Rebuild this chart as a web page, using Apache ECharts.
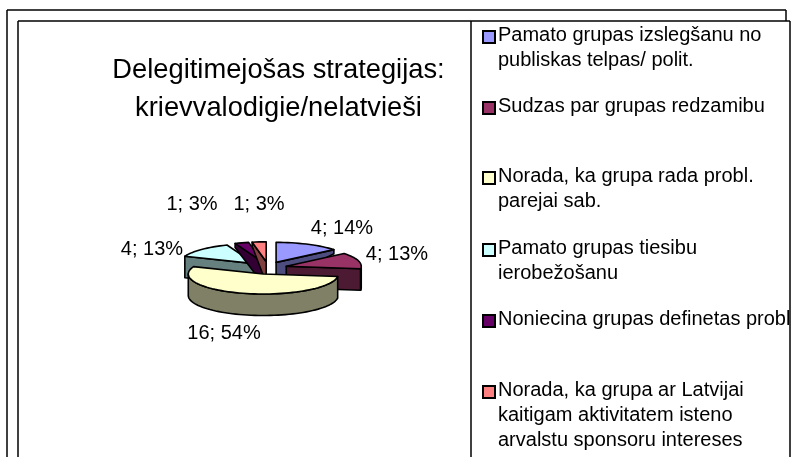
<!DOCTYPE html>
<html><head><meta charset="utf-8">
<style>html,body{margin:0;padding:0;background:#fff}#c{width:791px;height:457px}</style>
<script src="https://cdn.jsdelivr.net/npm/echarts@6/dist/echarts.min.js"></script>
</head><body><div id="c"></div>
<script>
const titleText = 'Delegitimejošas strategijas:\nkrievvalodigie/nelatvieši';
const categories = [
  'Pamato grupas izslegšanu no\npubliskas telpas/ polit.',
  'Sudzas par grupas redzamibu',
  'Norada, ka grupa rada probl.\nparejai sab.',
  'Pamato grupas tiesibu\nierobežošanu',
  'Noniecina grupas definetas probl',
  'Norada, ka grupa ar Latvijai\nkaitigam aktivitatem isteno\narvalstu sponsoru intereses'
];
const counts = [4, 4, 16, 4, 1, 1];
const percents = [14, 13, 54, 13, 3, 3];
const topColors = ['#9999FF', '#993366', '#FFFFCC', '#CCFFFF', '#660066', '#FF8080'];
const sideColors = ['#4D4D80', '#4D1A33', '#808066', '#668080', '#330033', '#804040'];
const labelPos = [[342,228],[397,254],[224,333],[152,249],[192,204],[259,204]];
const legendY = [35,106,176,248,319,390];
const drawOrder = [3,4,5,0,1,2];

const C = {x:268, y:268, rx:75, ry:20, depth:21.5, ex:19, ey:6.2};
const total = percents.reduce((a,b)=>a+b,0);
const rad = d => d*Math.PI/180;
function startAngle(i){ let s=0; for(let k=0;k<i;k++) s+=percents[k]; return s/total*360; }
// the far rim of the reference's perspective pie has a much shallower wall
function rimDepth(t){
  const c=Math.cos(rad(t));
  const f=Math.min(1,Math.max(0,(c-0.37)/0.27));
  return C.depth-(C.depth-4)*f;
}
function renderSlice(i){
  return function(params, api){
    const pct = api.value(0);
    const a = startAngle(i), b = a + pct/total*360, m = (a+b)/2;
    const ox = C.x + C.ex*Math.sin(rad(m)), oy = C.y - C.ey*Math.cos(rad(m));
    const P = t => [ox + C.rx*Math.sin(rad(t)), oy - C.ry*Math.cos(rad(t))];
    const D = t => { const p=P(t); return [p[0], p[1]+rimDepth(t)]; };
    const angles = (s,e) => { const r=[]; const n=Math.max(2,Math.ceil((e-s)/3)); for(let j=0;j<=n;j++) r.push(s+(e-s)*j/n); return r; };
    const style = c => ({fill:c, stroke:'#000', lineWidth:1.6, lineJoin:'round'});
    const apex=[ox,oy], apexD=[ox,oy+C.depth], kids=[];
    const wall = pts => kids.push({type:'polygon', shape:{points:pts}, style:style(sideColors[i])});
    if (Math.sin(rad(b)) > 0) wall([apex,P(b),D(b),apexD]);
    if (Math.sin(rad(a)) < 0) wall([apex,P(a),D(a),apexD]);
    const rs=Math.max(a,90), re=Math.min(b,270);
    if (re>rs){ const r=angles(rs,re); wall(r.map(P).concat(r.slice().reverse().map(D))); }
    kids.push({type:'polygon', shape:{points:[apex].concat(angles(a,b).map(P))}, style:style(topColors[i])});
    kids.push({type:'text', style:{x:labelPos[i][0], y:labelPos[i][1], text:counts[i]+'; '+pct+'%',
      fill:'#000', font:'20px "Liberation Sans"', align:'center', verticalAlign:'middle'}});
    return {type:'group', children:kids};
  };
}
const series = drawOrder.map((i,z)=>({
  type:'custom', coordinateSystem:'none', name:categories[i], z:2+z,
  itemStyle:{color:topColors[i], borderColor:'#000', borderWidth:1.5},
  data:[[percents[i]]], renderItem:renderSlice(i), silent:true
}));
const LH=25;
const legends = categories.map((n,i)=>({
  data:[n], orient:'vertical', left:482, top:legendY[i]-58.5, padding:0, icon:'rect',
  itemWidth:12, itemHeight:12, selectedMode:false,
  formatter:name=>{const l=name.split('\n'); return '{e| }\n\n'+l.concat(['','']).slice(0,3).join('\n');},
  textStyle:{fontFamily:'Liberation Sans', fontSize:20, lineHeight:LH, color:'#000', padding:[0,0,0,-2],
    rich:{e:{fontSize:10, lineHeight:LH-4}}}
}));
const frame = (x1,y1,x2,y2)=>({type:'line',silent:true,z:50,shape:{x1,y1,x2,y2},style:{stroke:'#000',lineWidth:1.5}});
const chart = echarts.init(document.getElementById('c'),null,{renderer:'canvas'});
chart.setOption({
  animation:false, backgroundColor:'#fff',
  title:{text:titleText, left:273.5, top:46, textAlign:'center',
    textStyle:{fontFamily:'Liberation Sans', fontWeight:'normal', fontSize:27.3, lineHeight:38.5, color:'#000'}},
  legend:legends,
  graphic:[frame(7,10,786,10),frame(7,10,7,457),frame(786,10,786,21),frame(18,21,790,21),frame(18,21,18,457),frame(471,21,471,457),frame(790,21,790,457)],
  series
});
</script></body></html>
